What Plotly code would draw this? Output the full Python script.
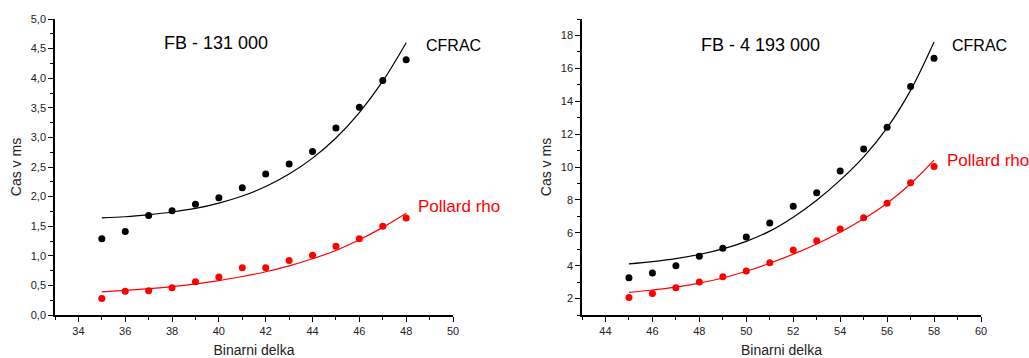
import plotly.graph_objects as go

# ---- data: left panel (FB - 131 000) ----
x_left = [35, 36, 37, 38, 39, 40, 41, 42, 43, 44, 45, 46, 47, 48]
cfrac_left = [1.29, 1.41, 1.68, 1.76, 1.87, 1.98, 2.15, 2.38, 2.55, 2.76, 3.16, 3.51, 3.96, 4.31]
pollard_left = [0.28, 0.40, 0.41, 0.46, 0.56, 0.64, 0.80, 0.80, 0.92, 1.01, 1.16, 1.29, 1.50, 1.64]
cfrac_left_fit = [1.64, 1.66, 1.695, 1.74, 1.80, 1.89, 2.01, 2.17, 2.38, 2.65, 2.99, 3.42, 3.95, 4.60]
pollard_left_fit = [0.39, 0.415, 0.445, 0.48, 0.525, 0.58, 0.65, 0.73, 0.83, 0.95, 1.09, 1.27, 1.48, 1.72]

# ---- data: right panel (FB - 4 193 000) ----
x_right = [45, 46, 47, 48, 49, 50, 51, 52, 53, 54, 55, 56, 57, 58]
cfrac_right = [3.27, 3.56, 4.00, 4.57, 5.06, 5.74, 6.59, 7.62, 8.43, 9.75, 11.10, 12.42, 14.89, 16.62]
pollard_right = [2.06, 2.30, 2.65, 3.01, 3.33, 3.68, 4.17, 4.96, 5.52, 6.23, 6.92, 7.79, 9.04, 10.03]
cfrac_right_fit = [4.11, 4.25, 4.43, 4.68, 5.02, 5.48, 6.10, 6.95, 7.98, 9.20, 10.62, 12.38, 14.66, 17.60]
pollard_right_fit = [2.37, 2.52, 2.70, 2.94, 3.25, 3.66, 4.15, 4.70, 5.32, 6.03, 6.85, 7.80, 8.98, 10.42]

titles = ["FB - 131 000", "FB - 4 193 000"]
x_title = "Binarni delka"
y_title = "Cas v ms"
series_names = ["CFRAC", "Pollard rho"]

BLACK = "#000000"
RED = "#ff0000"
FONT = "Arial, Liberation Sans, sans-serif"

fig = go.Figure()

def add_panel(xs, cf, po, cf_fit, po_fit, xa, ya):
    fig.add_trace(go.Scatter(x=xs, y=cf_fit, mode="lines", line=dict(color=BLACK, width=1.2, shape="spline"),
                             xaxis=xa, yaxis=ya, showlegend=False, hoverinfo="skip"))
    fig.add_trace(go.Scatter(x=xs, y=po_fit, mode="lines", line=dict(color=RED, width=1.2, shape="spline"),
                             xaxis=xa, yaxis=ya, showlegend=False, hoverinfo="skip"))
    fig.add_trace(go.Scatter(x=xs, y=cf, mode="markers", marker=dict(color=BLACK, size=7),
                             xaxis=xa, yaxis=ya, showlegend=False, name=series_names[0]))
    fig.add_trace(go.Scatter(x=xs, y=po, mode="markers", marker=dict(color=RED, size=7),
                             xaxis=xa, yaxis=ya, showlegend=False, name=series_names[1]))

add_panel(x_left, cfrac_left, pollard_left, cfrac_left_fit, pollard_left_fit, "x", "y")
add_panel(x_right, cfrac_right, pollard_right, cfrac_right_fit, pollard_right_fit, "x2", "y2")

W, H = 1029, 358
ydom = [(H - 315) / H, (H - 19) / H]

common_axis = dict(
    showline=True, linecolor=BLACK, linewidth=1.5, ticks="outside", ticklen=5, tickwidth=1,
    tickcolor=BLACK, showgrid=False, zeroline=False, mirror=False, automargin=False,
    tickfont=dict(family=FONT, size=11, color="#222222"),
    title_font=dict(family=FONT, size=14, color="#222222"),
)

fig.update_layout(
    width=W, height=H,
    margin=dict(l=0, r=0, t=0, b=0),
    paper_bgcolor="white", plot_bgcolor="white",
    separators=", ",
    font=dict(family=FONT, color=BLACK),
    xaxis=dict(domain=[55 / W, 453 / W], range=[33, 50], dtick=2, tick0=34, anchor="y",
               minor=dict(ticks="outside", ticklen=3, dtick=1, tickcolor=BLACK),
               title=dict(text=x_title, standoff=11), **common_axis),
    yaxis=dict(domain=ydom, range=[0, 5], dtick=0.5, tick0=0, tickformat=".1f", anchor="x",
               minor=dict(ticks="outside", ticklen=3, dtick=0.25, tickcolor=BLACK),
               title=dict(text=y_title, standoff=6), **common_axis),
    xaxis2=dict(domain=[582 / W, 981 / W], range=[43, 60], dtick=2, tick0=44, anchor="y2",
                minor=dict(ticks="outside", ticklen=3, dtick=1, tickcolor=BLACK),
                title=dict(text=x_title, standoff=11), **common_axis),
    yaxis2=dict(domain=ydom, range=[1, 19], dtick=2, tick0=2, anchor="x2",
                minor=dict(ticks="outside", ticklen=3, dtick=1, tickcolor=BLACK),
                title=dict(text=y_title, standoff=6), **common_axis),
)

# annotation positions given in pixels of the 1029x358 canvas
ann = [
    (titles[0], 216, 43, 18, BLACK),
    (series_names[0], 453, 45, 16, BLACK),
    (series_names[1], 459, 206, 17, RED),
    (titles[1], 760, 45, 18, BLACK),
    (series_names[0], 979, 45, 16, BLACK),
    (series_names[1], 988, 160, 17, RED),
]
for text, px, py, size, color in ann:
    fig.add_annotation(text=text, x=px / W, y=(H - py) / H, xref="paper", yref="paper",
                       showarrow=False, xanchor="center", yanchor="middle",
                       font=dict(family=FONT, size=size, color=color))

fig.write_html("out.html", config={"displayModeBar": False},
               post_script="document.body.style.margin='0';document.body.style.overflow='hidden';")
